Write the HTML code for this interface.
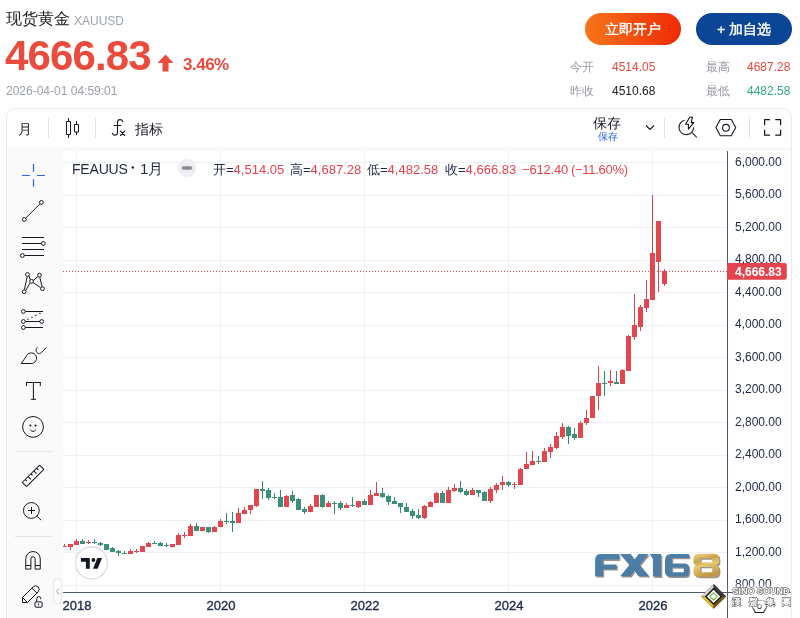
<!DOCTYPE html>
<html><head><meta charset="utf-8">
<style>
*{margin:0;padding:0;box-sizing:border-box}
html,body{width:800px;height:618px;overflow:hidden;background:#fff;font-family:"Liberation Sans",sans-serif}
.a{position:absolute;white-space:nowrap;will-change:transform}
#title{left:6px;top:9px;font-size:16px;color:#1b1b1b;line-height:20px}
#title span{font-size:12px;color:#9da3ad;margin-left:4px;position:relative;top:1px}
#price{left:5px;top:32.5px;font-size:42px;font-weight:bold;color:#ea4b3d;line-height:46px;letter-spacing:-0.85px}
#pct{left:183px;top:56px;font-size:17px;letter-spacing:-0.5px;font-weight:bold;color:#ea4b3d;line-height:18px}
#date{left:6px;top:84px;font-size:12px;color:#9a9fa8;line-height:14px}
.btn{top:13px;height:32px;width:96px;border-radius:16px;color:#fff;font-size:14px;text-align:center;line-height:33px;-webkit-text-stroke:0.4px #fff;font-size:13.5px}
#b1{left:585px;background:linear-gradient(90deg,#f5761a,#f12a05)}
#b2{left:696px;background:#0b4596}
.st{font-size:12px;line-height:14px}
.lb{color:#979ba3}
.card{left:6px;top:108px;width:786px;height:520px;border:1px solid #e8eaef;border-radius:9px;background:#fff}
.gray{left:7px;top:147px;width:784px;height:480px;background:#fafafa}
.pane{left:63px;top:151px;width:728px;height:480px;background:#fff;border-top-left-radius:3px}
.tb{font-size:14px;color:#131722;line-height:16px}
.sep{width:1px;background:#e0e3eb}
.lg{top:161.5px;font-size:13px;line-height:15px;color:#1e2845}
.lg span{color:#e5434d}
.pl{left:735px;font-size:12px;line-height:14px;color:#1e2845}
.yr{top:598px;width:40px;text-align:center;font-size:13px;line-height:15px;color:#1e2845;-webkit-text-stroke:0.35px #1e2845}
</style></head><body>
<div id="title" class="a">现货黄金<span>XAUUSD</span></div>
<div id="price" class="a">4666.83</div>
<svg class="a" style="left:157px;top:54px" width="17" height="18" viewBox="0 0 17 18"><path d="M8.5 0.5 L16.5 9 L11.5 9 L11.5 17.5 L5.5 17.5 L5.5 9 L0.5 9 Z" fill="#ea4b3d"/></svg>
<div id="pct" class="a">3.46%</div>
<div id="date" class="a">2026-04-01 04:59:01</div>
<div id="b1" class="a btn">立即开户</div>
<div id="b2" class="a btn">+ 加自选</div>
<div class="a st lb" style="left:570px;top:60px">今开</div>
<div class="a st" style="left:612px;top:60px;color:#e8473c">4514.05</div>
<div class="a st lb" style="left:706px;top:60px">最高</div>
<div class="a st" style="left:747px;top:60px;color:#e8473c">4687.28</div>
<div class="a st lb" style="left:570px;top:84px">昨收</div>
<div class="a st" style="left:612px;top:84px;color:#222">4510.68</div>
<div class="a st lb" style="left:706px;top:84px">最低</div>
<div class="a st" style="left:747px;top:84px;color:#2faa82">4482.58</div>

<div class="a card"></div>
<div class="a gray"></div>
<div class="a pane"></div>

<!-- top toolbar -->
<div class="a tb" style="left:18px;top:121px">月</div>
<div class="a sep" style="left:48px;top:117px;height:21px"></div>
<div class="a sep" style="left:95px;top:117px;height:21px"></div>
<div class="a tb" style="left:135px;top:121px">指标</div>
<div class="a tb" style="left:593px;top:115px;font-size:14px">保存</div>
<div class="a" style="left:598px;top:131px;font-size:10px;line-height:11px;color:#2962ff">保存</div>
<div class="a sep" style="left:664px;top:117px;height:21px"></div>
<div class="a sep" style="left:749px;top:117px;height:21px"></div>

<svg class="a" style="left:0;top:0" width="800" height="618" viewBox="0 0 800 618">
<!-- toolbar icons -->
<g fill="none" stroke="#131722" stroke-width="1">
 <path d="M68.5 118v3.5M68.5 134.5V138M66.5 121.5h4v13h-4z"/>
 <path d="M76.5 121v3M76.5 132v3M74.5 124.5h4v7.5h-4z"/>
</g>
<g fill="none" stroke="#131722" stroke-width="1.1" stroke-linecap="round">
 <path d="M117.5 132.8V121.8C117.5 119.3 121.5 118.6 122.8 121.4"/>
 <path d="M117.5 132.5C117.5 135.6 113.6 136.2 112.3 133.2"/>
 <path d="M114.2 125.5H120.8"/>
 <path d="M120.5 131.2L124.7 135.5M124.7 131.2L120.5 135.5"/>
</g>
<path d="M646 125.5l4 4 4-4" stroke="#131722" stroke-width="1.1" fill="none"/>
<g fill="none" stroke="#131722" stroke-width="1.1">
 <path d="M684.5 120.3A7.3 7.3 0 1 0 693.6 127.6"/>
 <path d="M689.7 117.2L685.6 124.2H688.4V129.2L693.8 122.6H691.2L692.5 117.2Z" stroke-linejoin="round"/>
 <path d="M692 132.3l4.8 5.2"/>
 <path d="M720.3 119.5h11l4.4 8-4.4 8.3h-11l-4.4-8.3z" stroke-linejoin="round"/>
 <circle cx="726" cy="127.8" r="3.4"/>
 <path d="M764.6 124.8V119.7H769.5M775.8 119.7H780.6V124.8M780.6 130.2V135.2H775.8M769.5 135.2H764.6V130.2" stroke-linejoin="round" stroke-linecap="round" stroke-width="1.2"/>
</g>
<!-- left toolbar -->
<g stroke="#2962ff" stroke-width="1.2" fill="none">
 <path d="M33.5 164v7.7M33.5 179.2v7.6M22 175.5h8M37 175.5h8"/>
</g>
<g fill="none" stroke="#131722" stroke-width="1">
 <circle cx="24.3" cy="219.5" r="1.9"/><circle cx="41.4" cy="202.4" r="1.9"/>
 <path d="M25.7 218.1L40 203.8"/>
 <path d="M22 237.5h22M22 243.5h19.4M22 249.5h22M24.4 255.5H44"/>
 <circle cx="43.3" cy="243.5" r="1.9"/><circle cx="22.4" cy="255.5" r="1.9"/>
 <path d="M24.4 289.7L27.2 276.4M25.8 290.4L30 283M29.2 276.3L30.1 279.6M33.4 280.4L37.8 276.7M33.1 282.6L40.6 287.7M39.8 277.2L42.1 286.7"/>
 <circle cx="24.2" cy="291.7" r="1.9"/><circle cx="27.5" cy="274.5" r="1.9"/><circle cx="31.5" cy="281.3" r="1.9"/><circle cx="39.5" cy="275.2" r="1.9"/><circle cx="42.5" cy="288.7" r="1.9"/>
 <circle cx="23.4" cy="311.5" r="1.9"/><circle cx="23.4" cy="321.5" r="1.9"/><circle cx="23.4" cy="327.5" r="1.9"/><circle cx="41.7" cy="321.5" r="1.9"/>
 <path d="M25.3 311.5H43M25.3 321.5H39.8M25.3 327.5H43"/>
 <path d="M27.9 319.2L40.2 313.3" stroke-dasharray="0.01 4.45" stroke-linecap="round" stroke-width="1.4"/>
 <path d="M21.2 363.5H31.2A5.3 5.3 0 1 0 26.9 355.2Q24.5 359.2 21.2 363.5Z" stroke-linejoin="round"/>
 <path d="M37.6 347.2C35.6 348.6 35.5 351.5 37.5 353C38.8 354 40.5 353.6 41.3 352.7L46.4 347.4"/>
 <path d="M26 382.5H40.8M26.5 382V386M40.3 382V386M33.4 382.5V399.3M30.9 399.3H36"/>
 <circle cx="33" cy="426.9" r="10.4"/>
 <path d="M30.2 429.6Q33 433.2 35.9 429.6"/>
 <g transform="translate(33.05 475.9) rotate(-45)"><rect x="-12.2" y="-3" width="24.4" height="6" rx="0.6"/><path d="M-8 -3v2.4M-4 -3v3.8M0 -3v2.4M4 -3v3.8M8 -3v2.4"/></g>
 <circle cx="31.35" cy="510.45" r="7.9"/>
 <path d="M27.9 510.5H35M31.5 507V514M37 516.1L41.1 520.2"/>
 <path d="M25.75 569.1V558.8A7.25 7.25 0 0 1 40.25 558.8V569.1H35.1V558.8A2.1 2.1 0 0 0 30.9 558.8V569.1Z M25.75 565.5H30.9M35.1 565.5H40.25" stroke-linejoin="round"/>
 <path d="M22.5 597.5L33.2 586.8A3.54 3.54 0 0 1 38.2 591.8L27.5 602.5H22.5Z M22.5 597.5L27.5 602.5M31.9 588.1L36.9 593.1" stroke-linejoin="round"/>
 <rect x="35" y="601.9" width="7.1" height="5.3" rx="1"/>
 <path d="M36.8 601.8V598.6A2 2 0 0 1 40.8 598.6V599.3M38.55 603.8v1.6"/>
</g>
<g fill="#131722"><circle cx="30.4" cy="425.4" r="1"/><circle cx="35.6" cy="425.4" r="1"/></g>
<g fill="none" stroke="#e0e3eb" stroke-width="1">
 <path d="M15 451.5H51M15 536.5H51"/>
</g>
<rect x="53.7" y="578.7" width="7.6" height="25.2" rx="3.8" fill="#fff" stroke="#dfe2ee"/>
<path d="M59 588.5L56.4 591.5L59 594.6" fill="none" stroke="#9598a1" stroke-width="1"/>
<!-- grid -->
<g fill="#eef1f1">
<rect x="63" y="162" width="664" height="1"/><rect x="63" y="195" width="664" height="1"/><rect x="63" y="227" width="664" height="1"/><rect x="63" y="260" width="664" height="1"/><rect x="63" y="292" width="664" height="1"/><rect x="63" y="325" width="664" height="1"/><rect x="63" y="357" width="664" height="1"/><rect x="63" y="390" width="664" height="1"/><rect x="63" y="422" width="664" height="1"/><rect x="63" y="455" width="664" height="1"/><rect x="63" y="487" width="664" height="1"/><rect x="63" y="520" width="664" height="1"/><rect x="63" y="552" width="664" height="1"/><rect x="63" y="585" width="664" height="1"/><rect x="76" y="151" width="1" height="441"/><rect x="220" y="151" width="1" height="441"/><rect x="364" y="151" width="1" height="441"/><rect x="508" y="151" width="1" height="441"/><rect x="652" y="151" width="1" height="441"/>
</g>
<!-- price line -->
<line x1="63" y1="271.5" x2="727" y2="271.5" stroke="#e5434d" stroke-width="1" stroke-dasharray="1 2"/>
<clipPath id="cp"><rect x="63" y="151" width="664" height="441"/></clipPath><g clip-path="url(#cp)"><g fill="#e2464f"><rect x="64" y="544" width="1" height="3" fill="#cf4750"/><rect x="62" y="546" width="5" height="1"/><rect x="70" y="544" width="1" height="6" fill="#cf4750"/><rect x="68" y="544" width="5" height="3"/><rect x="76" y="539" width="1" height="6" fill="#cf4750"/><rect x="74" y="541" width="5" height="4"/><rect x="88" y="540" width="1" height="4" fill="#cf4750"/><rect x="86" y="542" width="5" height="1"/><rect x="130" y="549" width="1" height="5" fill="#cf4750"/><rect x="128" y="551" width="5" height="3"/><rect x="136" y="549" width="1" height="4" fill="#cf4750"/><rect x="134" y="551" width="5" height="1"/><rect x="140" y="546" width="5" height="6"/><rect x="148" y="542" width="1" height="5" fill="#cf4750"/><rect x="146" y="543" width="5" height="4"/><rect x="170" y="544" width="5" height="3"/><rect x="178" y="533" width="1" height="12" fill="#cf4750"/><rect x="176" y="535" width="5" height="10"/><rect x="184" y="532" width="1" height="6" fill="#cf4750"/><rect x="182" y="535" width="5" height="1"/><rect x="190" y="524" width="1" height="12" fill="#cf4750"/><rect x="188" y="526" width="5" height="10"/><rect x="200" y="527" width="5" height="4"/><rect x="214" y="526" width="1" height="6" fill="#cf4750"/><rect x="212" y="527" width="5" height="5"/><rect x="220" y="519" width="1" height="8" fill="#cf4750"/><rect x="218" y="521" width="5" height="6"/><rect x="238" y="508" width="1" height="15" fill="#cf4750"/><rect x="236" y="513" width="5" height="10"/><rect x="244" y="507" width="1" height="7" fill="#cf4750"/><rect x="242" y="510" width="5" height="4"/><rect x="250" y="505" width="1" height="9" fill="#cf4750"/><rect x="248" y="505" width="5" height="5"/><rect x="256" y="489" width="1" height="18" fill="#cf4750"/><rect x="254" y="489" width="5" height="17"/><rect x="286" y="495" width="1" height="12" fill="#cf4750"/><rect x="284" y="496" width="5" height="11"/><rect x="310" y="504" width="1" height="8" fill="#cf4750"/><rect x="308" y="506" width="5" height="6"/><rect x="314" y="495" width="5" height="12"/><rect x="328" y="501" width="1" height="6" fill="#cf4750"/><rect x="326" y="503" width="5" height="4"/><rect x="346" y="503" width="1" height="5" fill="#cf4750"/><rect x="344" y="505" width="5" height="3"/><rect x="358" y="501" width="1" height="7" fill="#cf4750"/><rect x="356" y="501" width="5" height="6"/><rect x="370" y="490" width="1" height="15" fill="#cf4750"/><rect x="368" y="495" width="5" height="10"/><rect x="376" y="482" width="1" height="14" fill="#cf4750"/><rect x="374" y="493" width="5" height="3"/><rect x="424" y="505" width="1" height="14" fill="#cf4750"/><rect x="422" y="506" width="5" height="12"/><rect x="430" y="501" width="1" height="6" fill="#cf4750"/><rect x="428" y="502" width="5" height="5"/><rect x="436" y="492" width="1" height="11" fill="#cf4750"/><rect x="434" y="493" width="5" height="10"/><rect x="448" y="487" width="1" height="16" fill="#cf4750"/><rect x="446" y="490" width="5" height="13"/><rect x="454" y="484" width="1" height="8" fill="#cf4750"/><rect x="452" y="488" width="5" height="3"/><rect x="472" y="488" width="1" height="7" fill="#cf4750"/><rect x="470" y="490" width="5" height="5"/><rect x="490" y="487" width="1" height="16" fill="#cf4750"/><rect x="488" y="489" width="5" height="12"/><rect x="496" y="483" width="1" height="10" fill="#cf4750"/><rect x="494" y="485" width="5" height="5"/><rect x="502" y="476" width="1" height="14" fill="#cf4750"/><rect x="500" y="482" width="5" height="3"/><rect x="514" y="482" width="1" height="7" fill="#cf4750"/><rect x="512" y="484" width="5" height="1"/><rect x="520" y="468" width="1" height="17" fill="#cf4750"/><rect x="518" y="469" width="5" height="16"/><rect x="526" y="452" width="1" height="17" fill="#cf4750"/><rect x="524" y="464" width="5" height="5"/><rect x="532" y="451" width="1" height="14" fill="#cf4750"/><rect x="530" y="461" width="5" height="4"/><rect x="544" y="448" width="1" height="14" fill="#cf4750"/><rect x="542" y="451" width="5" height="11"/><rect x="550" y="444" width="1" height="14" fill="#cf4750"/><rect x="548" y="447" width="5" height="5"/><rect x="556" y="432" width="1" height="17" fill="#cf4750"/><rect x="554" y="436" width="5" height="12"/><rect x="562" y="423" width="1" height="16" fill="#cf4750"/><rect x="560" y="427" width="5" height="10"/><rect x="580" y="421" width="1" height="17" fill="#cf4750"/><rect x="578" y="423" width="5" height="15"/><rect x="586" y="410" width="1" height="15" fill="#cf4750"/><rect x="584" y="418" width="5" height="5"/><rect x="590" y="396" width="5" height="22"/><rect x="598" y="366" width="1" height="44" fill="#cf4750"/><rect x="596" y="383" width="5" height="13"/><rect x="610" y="370" width="1" height="16" fill="#cf4750"/><rect x="608" y="381" width="5" height="2"/><rect x="622" y="369" width="1" height="15" fill="#cf4750"/><rect x="620" y="370" width="5" height="14"/><rect x="628" y="335" width="1" height="36" fill="#cf4750"/><rect x="626" y="336" width="5" height="35"/><rect x="634" y="294" width="1" height="46" fill="#cf4750"/><rect x="632" y="325" width="5" height="12"/><rect x="640" y="305" width="1" height="26" fill="#cf4750"/><rect x="638" y="307" width="5" height="20"/><rect x="646" y="280" width="1" height="32" fill="#cf4750"/><rect x="644" y="299" width="5" height="9"/><rect x="652" y="195" width="1" height="105" fill="#cf4750"/><rect x="650" y="253" width="5" height="47"/><rect x="658" y="221" width="1" height="71" fill="#cf4750"/><rect x="656" y="221" width="5" height="41"/><rect x="664" y="269" width="1" height="17" fill="#cf4750"/><rect x="662" y="271" width="5" height="13"/></g><g fill="#3a9078"><rect x="82" y="539" width="1" height="5" fill="#378a71"/><rect x="80" y="541" width="5" height="3"/><rect x="94" y="539" width="1" height="5" fill="#378a71"/><rect x="92" y="542" width="5" height="1"/><rect x="100" y="542" width="1" height="4" fill="#378a71"/><rect x="98" y="543" width="5" height="2"/><rect x="104" y="544" width="5" height="6"/><rect x="112" y="547" width="1" height="5" fill="#378a71"/><rect x="110" y="548" width="5" height="4"/><rect x="118" y="550" width="1" height="6" fill="#378a71"/><rect x="116" y="551" width="5" height="2"/><rect x="124" y="551" width="1" height="3" fill="#378a71"/><rect x="122" y="553" width="5" height="1"/><rect x="154" y="541" width="1" height="3" fill="#378a71"/><rect x="152" y="543" width="5" height="1"/><rect x="160" y="542" width="1" height="4" fill="#378a71"/><rect x="158" y="543" width="5" height="3"/><rect x="166" y="543" width="1" height="4" fill="#378a71"/><rect x="164" y="545" width="5" height="1"/><rect x="196" y="523" width="1" height="8" fill="#378a71"/><rect x="194" y="526" width="5" height="5"/><rect x="208" y="527" width="1" height="6" fill="#378a71"/><rect x="206" y="527" width="5" height="5"/><rect x="226" y="513" width="1" height="11" fill="#378a71"/><rect x="224" y="521" width="5" height="1"/><rect x="232" y="512" width="1" height="20" fill="#378a71"/><rect x="230" y="521" width="5" height="2"/><rect x="262" y="481" width="1" height="18" fill="#378a71"/><rect x="260" y="489" width="5" height="2"/><rect x="268" y="488" width="1" height="12" fill="#378a71"/><rect x="266" y="490" width="5" height="8"/><rect x="274" y="493" width="1" height="6" fill="#378a71"/><rect x="272" y="497" width="5" height="1"/><rect x="280" y="490" width="1" height="17" fill="#378a71"/><rect x="278" y="497" width="5" height="10"/><rect x="292" y="491" width="1" height="12" fill="#378a71"/><rect x="290" y="495" width="5" height="6"/><rect x="298" y="498" width="1" height="12" fill="#378a71"/><rect x="296" y="499" width="5" height="11"/><rect x="304" y="507" width="1" height="7" fill="#378a71"/><rect x="302" y="509" width="5" height="3"/><rect x="322" y="494" width="1" height="14" fill="#378a71"/><rect x="320" y="495" width="5" height="12"/><rect x="334" y="501" width="1" height="13" fill="#378a71"/><rect x="332" y="503" width="5" height="1"/><rect x="340" y="501" width="1" height="9" fill="#378a71"/><rect x="338" y="503" width="5" height="5"/><rect x="352" y="497" width="1" height="10" fill="#378a71"/><rect x="350" y="505" width="5" height="1"/><rect x="364" y="499" width="1" height="6" fill="#378a71"/><rect x="362" y="501" width="5" height="4"/><rect x="382" y="488" width="1" height="10" fill="#378a71"/><rect x="380" y="493" width="5" height="4"/><rect x="388" y="495" width="1" height="10" fill="#378a71"/><rect x="386" y="496" width="5" height="6"/><rect x="394" y="497" width="1" height="7" fill="#378a71"/><rect x="392" y="501" width="5" height="3"/><rect x="400" y="503" width="1" height="10" fill="#378a71"/><rect x="398" y="503" width="5" height="4"/><rect x="406" y="503" width="1" height="9" fill="#378a71"/><rect x="404" y="507" width="5" height="5"/><rect x="412" y="509" width="1" height="10" fill="#378a71"/><rect x="410" y="511" width="5" height="5"/><rect x="418" y="509" width="1" height="10" fill="#378a71"/><rect x="416" y="515" width="5" height="3"/><rect x="442" y="491" width="1" height="12" fill="#378a71"/><rect x="440" y="493" width="5" height="10"/><rect x="460" y="481" width="1" height="12" fill="#378a71"/><rect x="458" y="488" width="5" height="4"/><rect x="466" y="489" width="1" height="7" fill="#378a71"/><rect x="464" y="491" width="5" height="4"/><rect x="478" y="490" width="1" height="7" fill="#378a71"/><rect x="476" y="490" width="5" height="3"/><rect x="484" y="491" width="1" height="10" fill="#378a71"/><rect x="482" y="492" width="5" height="9"/><rect x="508" y="481" width="1" height="6" fill="#378a71"/><rect x="506" y="482" width="5" height="3"/><rect x="538" y="456" width="1" height="8" fill="#378a71"/><rect x="536" y="461" width="5" height="1"/><rect x="568" y="426" width="1" height="18" fill="#378a71"/><rect x="566" y="427" width="5" height="9"/><rect x="574" y="428" width="1" height="12" fill="#378a71"/><rect x="572" y="434" width="5" height="4"/><rect x="604" y="371" width="1" height="25" fill="#378a71"/><rect x="602" y="383" width="5" height="1"/><rect x="616" y="371" width="1" height="13" fill="#378a71"/><rect x="614" y="382" width="5" height="2"/></g></g>
<!-- axes -->
<rect x="727" y="151" width="1" height="467" fill="#4b5671"/>
<rect x="63" y="592" width="664" height="1" fill="#4b5671"/>
<!-- legend minus -->
<circle cx="132.8" cy="167.6" r="1.25" fill="#1e2845"/>
<circle cx="187" cy="168" r="9.2" fill="#eceef2"/>
<rect x="181.7" y="166.3" width="10.6" height="3.4" rx="1.7" fill="#8a8d96"/>
<!-- TV logo -->
<circle cx="91.5" cy="562.9" r="16" fill="#fff" stroke="#dfe2ea" stroke-width="1.6"/>
<path d="M80.9 558.1H89.8V568.8H85.9V561.8H80.9Z" fill="#131722"/>
<circle cx="93.4" cy="560" r="1.9" fill="#131722"/>
<path d="M97.3 558.1H102L97.6 568.8H93Z" fill="#131722"/>
<!-- watermark -->
<defs>
<linearGradient id="gold" x1="0" y1="0" x2="0.3" y2="1"><stop offset="0" stop-color="#f3d98a"/><stop offset="0.35" stop-color="#c9a24c"/><stop offset="0.55" stop-color="#e8c86e"/><stop offset="1" stop-color="#c29a45"/></linearGradient>
<linearGradient id="blu" x1="0" y1="0" x2="0" y2="1"><stop offset="0" stop-color="#4d80a8"/><stop offset="1" stop-color="#4a7ca4"/></linearGradient>
</defs>
<g id="fxsh" transform="translate(1.3 1.3)" fill="#4a3c38" opacity="0.55">
 <path d="M601 553.9H619.1V559.6H602.9V564.4H616.5V569.2H602.9V576.2H595.1V559.8Q595.1 553.9 601 553.9Z"/>
 <path d="M620 553.9H630.5L634.5 559.6L638.5 553.9H648.5L639.7 565L649 576.2H638.6L634.5 570.4L630.4 576.2H620.2L629.4 565Z"/>
 <path d="M649.7 554.1H661V576.6H653V558.9Z"/>
 <path fill-rule="evenodd" d="M671 554.1H689V557.9H671.9V563.6H684.5Q689 563.6 689 568.1V572.1Q689 576.6 684.5 576.6H670Q665 576.6 665 571.6V560.1Q665 554.1 671 554.1ZM671.9 567.5V572.2H683.8V567.5Z"/>
 <path fill-rule="evenodd" d="M699 553.8H714Q719.1 553.8 719.1 558.8V561Q719.1 564.5 716.5 565.2Q719.1 566 719.1 569.5V572Q719.1 576.9 714 576.9H699Q693.5 576.9 693.5 572V569.5Q693.5 566 696.1 565.2Q693.5 564.5 693.5 561V558.8Q693.5 553.8 699 553.8ZM700.4 558.5H712.2V562.6H700.4ZM700.4 567H712.2V572.2H700.4Z"/>
</g>
<g fill="url(#blu)">
 <path d="M601 553.9H619.1V559.6H602.9V564.4H616.5V569.2H602.9V576.2H595.1V559.8Q595.1 553.9 601 553.9Z"/>
 <path d="M620 553.9H630.5L634.5 559.6L638.5 553.9H648.5L639.7 565L649 576.2H638.6L634.5 570.4L630.4 576.2H620.2L629.4 565Z"/>
 <path d="M649.7 554.1H661V576.6H653V558.9Z"/>
 <path fill-rule="evenodd" d="M671 554.1H689V557.9H671.9V563.6H684.5Q689 563.6 689 568.1V572.1Q689 576.6 684.5 576.6H670Q665 576.6 665 571.6V560.1Q665 554.1 671 554.1ZM671.9 567.5V572.2H683.8V567.5Z"/>
</g>
<path fill="url(#gold)" fill-rule="evenodd" d="M699 553.8H714Q719.1 553.8 719.1 558.8V561Q719.1 564.5 716.5 565.2Q719.1 566 719.1 569.5V572Q719.1 576.9 714 576.9H699Q693.5 576.9 693.5 572V569.5Q693.5 566 696.1 565.2Q693.5 564.5 693.5 561V558.8Q693.5 553.8 699 553.8ZM700.4 558.5H712.2V562.6H700.4ZM700.4 567H712.2V572.2H700.4Z"/>
<!-- sino sound diamond -->
<path d="M713.6 584L726.1 596.4L713.6 608.8L701.1 596.4Z" fill="#2e2e2e"/>
<path d="M701.1 596.4L713.6 584L713.6 587.6L704.7 596.4Z" fill="#d4d4d4"/>
<path d="M713.6 584L726.1 596.4L722.5 596.4L713.6 587.6Z" fill="#3a3a3a"/>
<path d="M701.1 596.4L713.6 608.8L713.6 605.2L704.7 596.4Z" fill="#e2c21e"/>
<path d="M713.6 608.8L726.1 596.4L722.5 596.4L713.6 605.2Z" fill="#7a5a18"/>
<path d="M713.6 588.6L721.4 596.4L713.6 604.2L705.8 596.4Z" fill="#1e1a14"/>
<path d="M713.6 589.8L720.2 596.4L713.6 603L707 596.4Z" fill="#fff"/>
<path d="M713.6 592.6L717.4 596.4L713.6 600.2L709.8 596.4Z" fill="none" stroke="#7cb83e" stroke-width="1.1" stroke-linejoin="round"/>
<!-- bottom hex icon -->
<path d="M755.5 600.5h8l3.5 6-3.5 6h-8l-3.5-6z" fill="none" stroke="#131722" stroke-width="1.1"/>
<circle cx="759.5" cy="606.5" r="2" fill="none" stroke="#131722" stroke-width="1.1"/>
<!-- last price label -->
<path d="M727 263H784.5A2.3 2.3 0 0 1 786.8 265.3V277.5A2.3 2.3 0 0 1 784.5 279.8H727Z" fill="#e3444e"/>
</svg>
<div class="a pl" style="top:154.5px">6,000.00</div>
<div class="a pl" style="top:187.0px">5,600.00</div>
<div class="a pl" style="top:219.5px">5,200.00</div>
<div class="a pl" style="top:252.0px">4,800.00</div>
<div class="a pl" style="top:284.6px">4,400.00</div>
<div class="a pl" style="top:317.1px">4,000.00</div>
<div class="a pl" style="top:349.6px">3,600.00</div>
<div class="a pl" style="top:382.1px">3,200.00</div>
<div class="a pl" style="top:414.6px">2,800.00</div>
<div class="a pl" style="top:447.1px">2,400.00</div>
<div class="a pl" style="top:479.6px">2,000.00</div>
<div class="a pl" style="top:512.2px">1,600.00</div>
<div class="a pl" style="top:544.7px">1,200.00</div>
<div class="a pl" style="top:577.2px">800.00</div>
<div class="a yr" style="left:56.5px">2018</div>
<div class="a yr" style="left:200.5px">2020</div>
<div class="a yr" style="left:344.5px">2022</div>
<div class="a yr" style="left:488.5px">2024</div>
<div class="a yr" style="left:632.5px">2026</div>
<div class="a" style="left:72px;top:161px;font-size:14px;line-height:16px;color:#1e2845;letter-spacing:-0.2px">FEAUUS</div>
<div class="a" style="left:139.5px;top:160px;font-size:15px;line-height:17px;color:#1e2845">1月</div>
<div class="a lg" style="left:212.5px">开=<span>4,514.05</span></div>
<div class="a lg" style="left:289.5px">高=<span>4,687.28</span></div>
<div class="a lg" style="left:366.5px">低=<span>4,482.58</span></div>
<div class="a lg" style="left:444.5px">收=<span>4,666.83</span></div>
<div class="a lg" style="left:522px;color:#e5434d;letter-spacing:-0.2px">−612.40</div>
<div class="a lg" style="left:571px;color:#e5434d;letter-spacing:-0.3px">(−11.60%)</div>
<div class="a" style="left:734.5px;top:264.5px;font-size:12px;line-height:14px;color:#fff;font-weight:bold">4,666.83</div>
<svg class="a" style="left:0;top:0" width="800" height="618" viewBox="0 0 800 618">
<defs><filter id="bl" x="-20%" y="-40%" width="140%" height="180%"><feGaussianBlur stdDeviation="2"/></filter>
<filter id="sh" x="-10%" y="-30%" width="120%" height="160%"><feGaussianBlur stdDeviation="0.45"/></filter></defs>
<rect x="730" y="586" width="60" height="22" fill="#fff" opacity="0.7" filter="url(#bl)"/>
<rect x="727.5" y="592" width="5" height="1" fill="#4b5671"/><rect x="788" y="592" width="3" height="1" fill="#4b5671" opacity="0.7"/>
<g filter="url(#sh)"><text x="732.5" y="594.3" font-family="Liberation Sans" font-weight="bold" font-size="8.6" fill="#333" stroke="#333" stroke-width="1.1" textLength="57" lengthAdjust="spacingAndGlyphs">SINO SOUND</text></g>
<text x="732.5" y="594.3" font-family="Liberation Sans" font-weight="bold" font-size="8.6" fill="#fff" stroke="#fff" stroke-width="0.15" textLength="57" lengthAdjust="spacingAndGlyphs">SINO SOUND</text>
<g filter="url(#sh)" fill="#444" stroke="#444" stroke-width="0.9"><text x="732" y="605" font-family="Liberation Sans" font-weight="bold" font-size="9">漢</text><text x="749" y="605" font-family="Liberation Sans" font-weight="bold" font-size="9">聲</text><text x="766" y="605" font-family="Liberation Sans" font-weight="bold" font-size="9">集</text><text x="782" y="605" font-family="Liberation Sans" font-weight="bold" font-size="9">團</text></g>
<g fill="#fff"><text x="732" y="605" font-family="Liberation Sans" font-weight="bold" font-size="9">漢</text><text x="749" y="605" font-family="Liberation Sans" font-weight="bold" font-size="9">聲</text><text x="766" y="605" font-family="Liberation Sans" font-weight="bold" font-size="9">集</text><text x="782" y="605" font-family="Liberation Sans" font-weight="bold" font-size="9">團</text></g>
</svg>
</body></html>
